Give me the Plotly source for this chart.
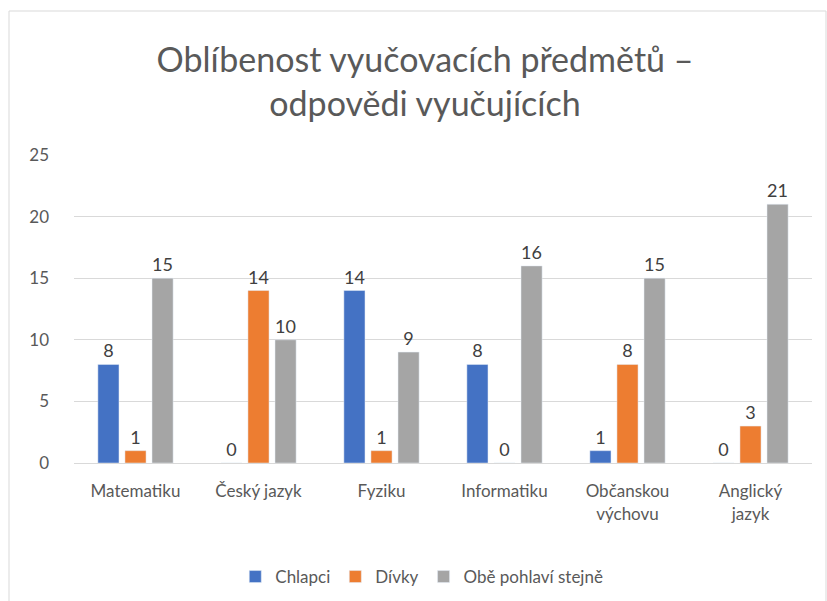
import plotly.graph_objects as go

categories = ["Matematiku", "Český jazyk", "Fyziku", "Informatiku", "Občanskou<br>výchovu", "Anglický<br>jazyk"]
chlapci = [8, 0, 14, 8, 1, 0]
divky = [1, 14, 1, 0, 8, 3]
obe = [15, 10, 9, 16, 15, 21]
series_names = ["Chlapci", "Dívky", "Obě pohlaví stejně"]
colors = ["#4472C4", "#ED7D31", "#A5A5A5"]
y_ticks = [0, 5, 10, 15, 20, 25]

FONT = "Lato"
W, H = 827, 601
ML, MR, MT, MB = 74, 15, 155, 138

fig = go.Figure()
for name, vals, col in zip(series_names, [chlapci, divky, obe], colors):
    fig.add_trace(go.Bar(
        x=categories, y=vals, name=name, marker_color=col,
        text=[str(v) for v in vals], textposition="outside", cliponaxis=False,
        textfont=dict(family=FONT, size=18, color="#404040"),
    ))

pw = W - ML - MR
ph = H - MT - MB
fig.add_shape(type="rect", xref="paper", yref="paper",
              x0=(9 - ML) / pw, x1=(826 - ML) / pw,
              y0=(H - MB - 640) / ph, y1=(H - MB - 11) / ph,
              line=dict(color="#D9D9D9", width=1), fillcolor="rgba(0,0,0,0)", layer="below")

fig.update_layout(
    width=W, height=H,
    margin=dict(l=ML, r=MR, t=MT, b=MB, autoexpand=False),
    paper_bgcolor="white", plot_bgcolor="white",
    barmode="group", bargap=0.34, bargroupgap=0.22,
    title=dict(text="Oblíbenost vyučovacích předmětů –<br>odpovědi vyučujících",
               x=425 / W, xref="container", xanchor="center", y=1 - 72 / H, yanchor="top",
               font=dict(family=FONT, size=34, color="#595959")),
    showlegend=True,
    legend=dict(orientation="h", x=0.51, xanchor="center", xref="container",
                y=24 / H, yref="container", yanchor="middle",
                font=dict(family=FONT, size=17, color="#595959"),
                itemwidth=30, traceorder="normal"),
    xaxis=dict(tickfont=dict(family=FONT, size=17, color="#595959"), automargin=False,
               ticklabelstandoff=13,
               showline=True, linecolor="#D9D9D9", linewidth=1, ticks="", showgrid=False),
    yaxis=dict(range=[0, 25], tickvals=y_ticks, showgrid=True, gridcolor="#D9D9D9", gridwidth=1,
               zeroline=False, showline=False, ticks="", ticklabelstandoff=24, automargin=False,
               tickfont=dict(family=FONT, size=17, color="#595959")),
)

fig.write_html("out.html", config={"displayModeBar": False},
               post_script="document.body.style.margin='0';")
